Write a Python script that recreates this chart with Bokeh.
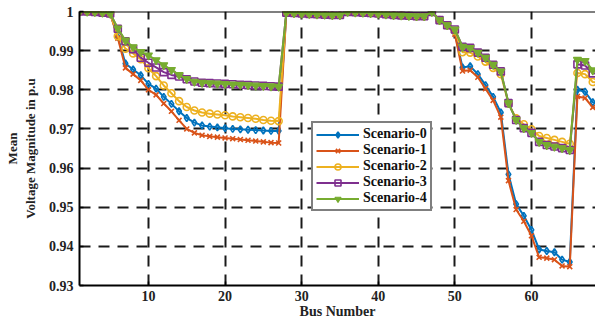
from bokeh.plotting import figure
from bokeh.models import (FixedTicker, CustomJSTickFormatter, Legend, LegendItem, Span)
from bokeh.embed import file_html
from bokeh.resources import INLINE

# ---------------- data ----------------
buses = list(range(1, 70))

head = [1.0, 1.0, 0.9999, 0.9997, 0.9995]
lateral_28_49 = [0.9997, 0.9996, 0.9995, 0.9994, 0.9993, 0.9992, 0.9991, 0.9991,
                 0.9999, 0.9998, 0.9997, 0.9996, 0.9995, 0.9993, 0.9991, 0.9990,
                 0.9989, 0.9988, 0.9988, 0.9999, 0.9978, 0.9965]

s0_6_27 = [0.9935, 0.9867, 0.9852, 0.9837, 0.9815, 0.9803, 0.9782, 0.9764, 0.9745, 0.9728,
           0.9716, 0.9709, 0.9706, 0.9704, 0.9702, 0.9700, 0.9699, 0.9698, 0.9697, 0.9696,
           0.9695, 0.9695]
s0_50_69 = [0.9945, 0.9857, 0.9860, 0.9840, 0.9812, 0.9782, 0.9742, 0.9584, 0.9508, 0.9478,
            0.9442, 0.9392, 0.9388, 0.9385, 0.9366, 0.9360, 0.9800, 0.9795, 0.9768, 0.9766]

s1_6_27 = [0.9932, 0.9856, 0.9840, 0.9824, 0.9800, 0.9787, 0.9765, 0.9745, 0.9722, 0.9700,
           0.9690, 0.9684, 0.9681, 0.9679, 0.9677, 0.9675, 0.9673, 0.9671, 0.9669, 0.9667,
           0.9665, 0.9664]
s1_50_69 = [0.9942, 0.9848, 0.9850, 0.9832, 0.9803, 0.9773, 0.9730, 0.9568, 0.9494, 0.9464,
            0.9427, 0.9372, 0.9370, 0.9366, 0.9350, 0.9348, 0.9783, 0.9779, 0.9755, 0.9753]

s2_6_27 = [0.9937, 0.9905, 0.9893, 0.9878, 0.9855, 0.9835, 0.9811, 0.9791, 0.9771, 0.9756,
           0.9747, 0.9742, 0.9739, 0.9737, 0.9735, 0.9732, 0.9730, 0.9728, 0.9726, 0.9723,
           0.9721, 0.9720]
s2_50_69 = [0.9950, 0.9896, 0.9895, 0.9885, 0.9872, 0.9856, 0.9840, 0.9765, 0.9727, 0.9712,
            0.9699, 0.9682, 0.9677, 0.9672, 0.9667, 0.9662, 0.9843, 0.9840, 0.9820, 0.9818]

s3_6_27 = [0.9956, 0.9924, 0.9904, 0.9882, 0.9869, 0.9857, 0.9845, 0.9838, 0.9834, 0.9827,
           0.9821, 0.9818, 0.9817, 0.9816, 0.9815, 0.9814, 0.9813, 0.9812, 0.9811, 0.9810,
           0.9809, 0.9808]
s3_50_69 = [0.9954, 0.9910, 0.9907, 0.9895, 0.9882, 0.9864, 0.9847, 0.9766, 0.9723, 0.9702,
            0.9690, 0.9667, 0.9659, 0.9655, 0.9651, 0.9646, 0.9865, 0.9862, 0.9842, 0.9840]

s4_6_27 = [0.9957, 0.9926, 0.9909, 0.9897, 0.9888, 0.9876, 0.9863, 0.9851, 0.9838, 0.9828,
           0.9821, 0.9818, 0.9817, 0.9816, 0.9815, 0.9814, 0.9813, 0.9812, 0.9811, 0.9810,
           0.9809, 0.9808]
s4_50_69 = [0.9954, 0.9910, 0.9907, 0.9895, 0.9882, 0.9864, 0.9847, 0.9766, 0.9723, 0.9702,
            0.9690, 0.9667, 0.9659, 0.9655, 0.9651, 0.9646, 0.9877, 0.9874, 0.9850, 0.9848]

scenario_0 = head + s0_6_27 + lateral_28_49 + s0_50_69
scenario_1 = head + s1_6_27 + lateral_28_49 + s1_50_69
scenario_2 = head + s2_6_27 + lateral_28_49 + s2_50_69
scenario_3 = head + s3_6_27 + lateral_28_49 + s3_50_69
scenario_4 = head + s4_6_27 + lateral_28_49 + s4_50_69

names = ["Scenario-0", "Scenario-1", "Scenario-2", "Scenario-3", "Scenario-4"]
series = [scenario_0, scenario_1, scenario_2, scenario_3, scenario_4]
colors = ["#0072BD", "#D95319", "#EDB120", "#7E2F8E", "#77AC30"]
markers = ["diamond", "x", "circle", "square", "inverted_triangle"]

x_ticks = [10, 20, 30, 40, 50, 60]
y_ticks = [0.93, 0.94, 0.95, 0.96, 0.97, 0.98, 0.99, 1.0]

FONT = "Liberation Serif"

# ---------------- figure ----------------
p = figure(width=595, height=321, x_range=(1, 68.36), y_range=(0.93, 1.0),
           output_backend="svg", toolbar_location=None,
           min_border_left=79, min_border_right=0, min_border_top=11, min_border_bottom=35,
           background_fill_color="white", border_fill_color="white")
p.outline_line_color = None

for ax in (p.xaxis[0], p.yaxis[0]):
    ax.axis_line_color = "black"
    ax.axis_line_width = 2
    ax.major_tick_line_color = "black"
    ax.major_tick_line_width = 1.5
    ax.major_tick_in = 4
    ax.major_tick_out = 0
    ax.minor_tick_line_color = None
    ax.major_label_text_font = FONT
    ax.major_label_text_font_style = "bold"
    ax.major_label_text_font_size = "14px"
    ax.major_label_text_color = "#222222"
    ax.axis_label_text_font = FONT
    ax.axis_label_text_font_style = "bold"
    ax.axis_label_text_color = "#222222"

p.xaxis.ticker = FixedTicker(ticks=x_ticks)
p.yaxis.ticker = FixedTicker(ticks=y_ticks)
p.yaxis.formatter = CustomJSTickFormatter(code="return tick > 0.9999 ? '1' : tick.toFixed(2);")
p.xaxis.major_label_standoff = 5
p.yaxis.major_label_standoff = 6
p.xaxis.axis_label = "Bus Number"
p.xaxis.axis_label_text_font_size = "14px"
p.xaxis.axis_label_standoff = 0
p.yaxis.axis_label = "Mean\nVoltage Magnitude in p.u"
p.yaxis.axis_label_text_font_size = "13px"
p.yaxis.axis_label_standoff = 8

for g in (p.xgrid[0], p.ygrid[0]):
    g.grid_line_color = "#1a1a1a"
    g.grid_line_width = 2
    g.grid_line_dash = "11 8"
p.xgrid.ticker = FixedTicker(ticks=x_ticks)
p.ygrid.ticker = FixedTicker(ticks=[0.94, 0.95, 0.96, 0.97, 0.98, 0.99])

items = []
for name, ys, col, mk in zip(names, series, colors, markers):
    ln = p.line(buses, ys, line_color=col, line_width=2)
    if mk == "inverted_triangle":
        sc = p.scatter(buses, ys, marker=mk, size=8, line_color=col, fill_color=col, line_width=1.2)
    elif mk == "x":
        sc = p.scatter(buses, ys, marker=mk, size=7, line_color=col, line_width=1.6)
    else:
        sc = p.scatter(buses, ys, marker=mk, size=7, line_color=col, fill_color=None, line_width=1.6)
    items.append(LegendItem(label=name, renderers=[ln, sc]))

p.add_layout(Span(location=1.0, dimension="width", line_color="black", line_width=2))

legend = Legend(items=items, location=(232, 74))
legend.label_text_font = FONT
legend.label_text_font_style = "bold"
legend.label_text_font_size = "14px"
legend.label_text_color = "#111111"
legend.glyph_width = 43
legend.glyph_height = 15
legend.label_height = 15
legend.label_standoff = 4
legend.spacing = 0
legend.padding = 3
legend.margin = 0
legend.border_line_color = "black"
legend.border_line_width = 2
legend.background_fill_color = "white"
legend.background_fill_alpha = 1.0
p.add_layout(legend, "center")

open("out.html", "w").write(file_html(p, INLINE))
